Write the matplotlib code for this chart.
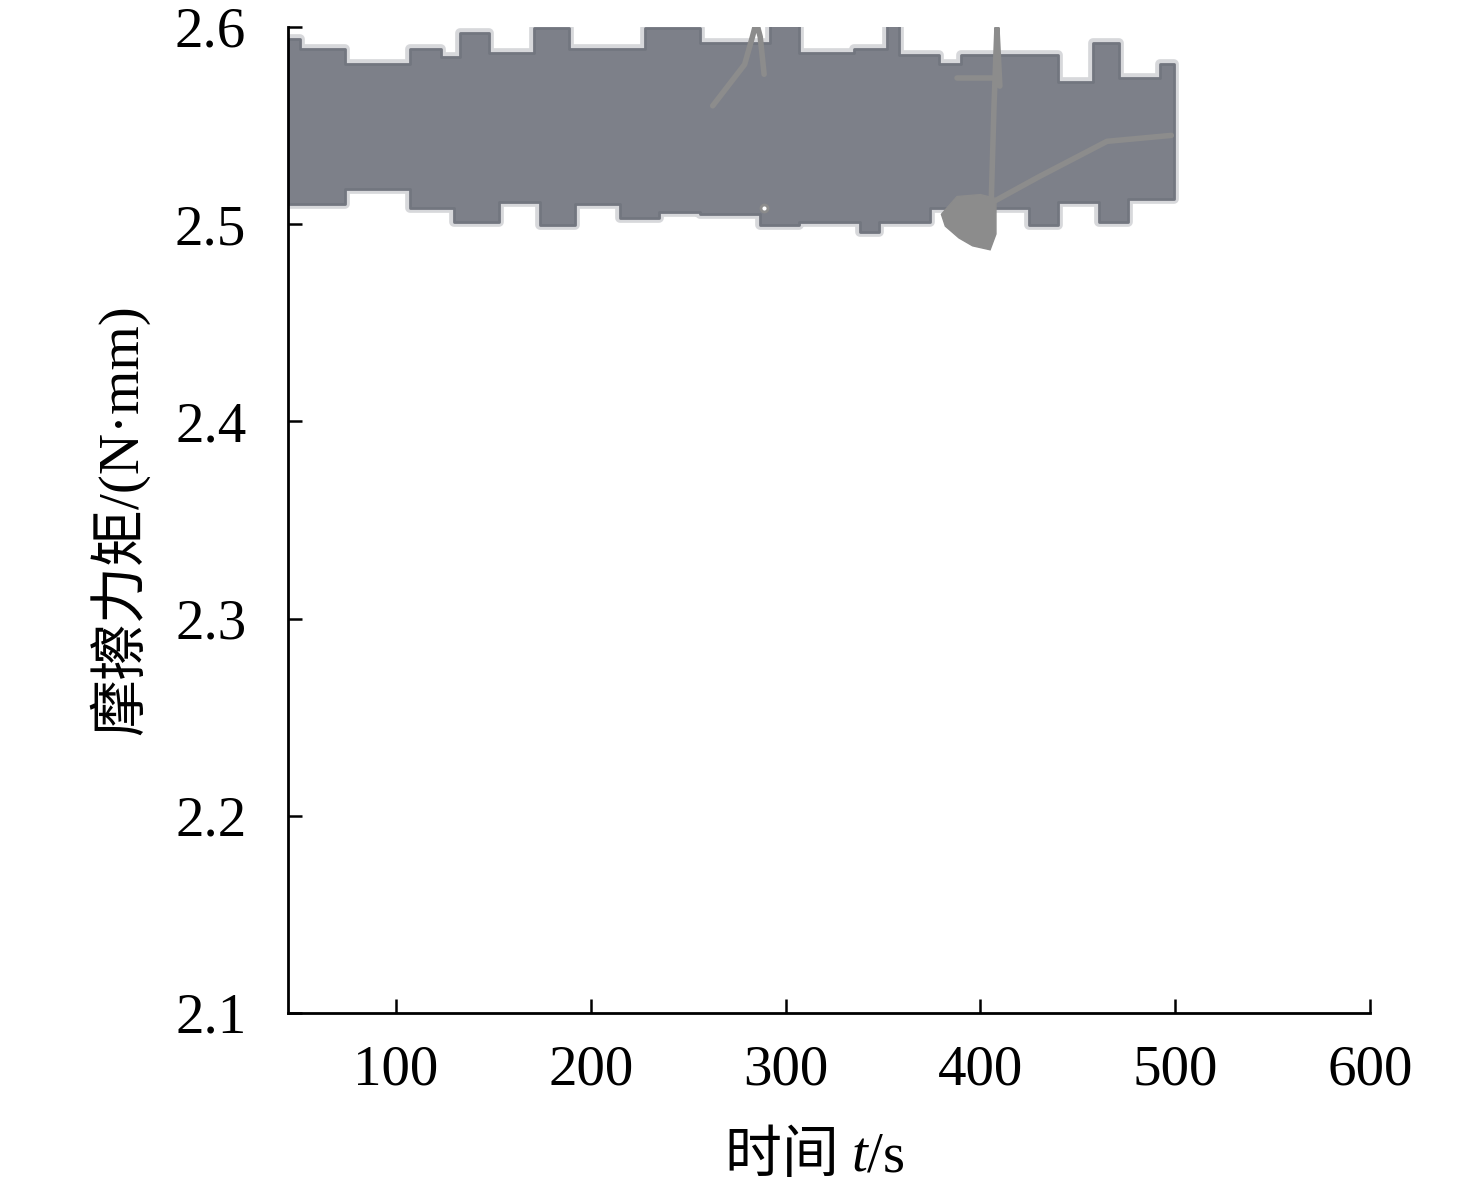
import numpy as np
import matplotlib
matplotlib.use('Agg')
import matplotlib.pyplot as plt
from matplotlib.offsetbox import TextArea, HPacker, AnchoredOffsetbox

plt.rcParams['font.family'] = ['Liberation Serif', 'Noto Sans CJK SC']

# envelope of the dense torque signal (step breakpoints, s / N·mm)
upper_x = [44.6, 51, 74, 107, 123, 133, 148, 171, 189, 228, 256, 292, 307, 335, 352, 358, 379, 390, 440, 458, 471, 492]
upper_y = [2.594, 2.589, 2.581, 2.589, 2.585, 2.597, 2.587, 2.5995, 2.589, 2.5995, 2.592, 2.601, 2.587, 2.589, 2.6025, 2.586, 2.581, 2.586, 2.572, 2.592, 2.574, 2.581]
lower_x = [44.6, 74, 107, 130, 153, 174, 192, 215, 235, 256, 287, 307, 338, 348, 374, 425, 440, 461, 476]
lower_y = [2.510, 2.518, 2.508, 2.501, 2.511, 2.4995, 2.510, 2.503, 2.506, 2.505, 2.4995, 2.501, 2.496, 2.501, 2.508, 2.4995, 2.511, 2.501, 2.513]
t_end = 499.5

# stray strokes on top of the band
stroke1_x = [262.6, 279, 283, 285, 287, 289]
stroke1_y = [2.560, 2.581, 2.595, 2.6025, 2.595, 2.576]
stroke2_x = [405, 407, 408.5, 410]
stroke2_y = [2.492, 2.560, 2.5995, 2.570]
stroke3_x = [406, 430, 465, 498]
stroke3_y = [2.511, 2.524, 2.542, 2.545]
stroke4_x = [388, 408]
stroke4_y = [2.574, 2.574]
blob_x = [380, 388, 400, 408, 408, 405, 396, 389, 382]
blob_y = [2.505, 2.514, 2.515, 2.513, 2.495, 2.487, 2.489, 2.493, 2.499]
dot_x = [289]
dot_y = [2.508]

xticks = [100, 200, 300, 400, 500, 600]
yticks = [2.1, 2.2, 2.3, 2.4, 2.5, 2.6]


def step_at(xs, bx, by):
    idx = np.searchsorted(bx, xs, side='right') - 1
    return np.asarray(by)[np.clip(idx, 0, len(by) - 1)]


fig = plt.figure(figsize=(14.76, 11.92), dpi=100)
ax = fig.add_axes([0.1951, 0.1502, 0.7331, 0.8272])

xs = np.array(sorted(set(upper_x) | set(lower_x) | {t_end}))
up = step_at(xs, upper_x, upper_y)
lo = step_at(xs, lower_x, lower_y)
# soft halo to imitate the blurry edge, then the band itself
ax.fill_between(xs, lo, up, step='post', color='#7d8089', edgecolor='#7d8089', lw=7, alpha=0.3, zorder=1)
ax.fill_between(xs, lo, up, step='post', color='#7d8089', edgecolor='#72767f', lw=2, zorder=2)

art = '#8c8c8c'
ax.plot(stroke1_x, stroke1_y, color=art, lw=4, zorder=3, solid_capstyle='round')
ax.plot(stroke2_x, stroke2_y, color=art, lw=4, zorder=3, solid_capstyle='round')
ax.plot(stroke3_x, stroke3_y, color=art, lw=4, zorder=3, solid_capstyle='round')
ax.plot(stroke4_x, stroke4_y, color=art, lw=4, zorder=3, solid_capstyle='round')
ax.fill(blob_x, blob_y, color=art, zorder=3)
ax.plot(dot_x, dot_y, 'o', ms=5, mfc='white', mec=art, mew=2, zorder=3)

ax.set_xlim(44.6, 600)
ax.set_ylim(2.1, 2.6)
ax.set_xticks(xticks)
ax.set_yticks(yticks)
ax.set_xticklabels([str(v) for v in xticks])
ax.set_yticklabels([f'{v:.1f}' for v in yticks])

for s in ['top', 'right']:
    ax.spines[s].set_visible(False)
for s in ['left', 'bottom']:
    ax.spines[s].set_linewidth(2.0)

ax.tick_params(axis='both', direction='in', length=10, width=1.8, labelsize=41)
ax.tick_params(axis='y', pad=30)
ax.tick_params(axis='x', pad=23)

# x label: CJK text, italic t, then /s
parts = [
    TextArea('时间 ', textprops=dict(fontsize=41, family=['Noto Sans CJK SC'], weight='light')),
    TextArea('t', textprops=dict(fontsize=41, family=['Liberation Serif'], style='italic')),
    TextArea('/s', textprops=dict(fontsize=41, family=['Liberation Serif'])),
]
box = HPacker(children=parts, sep=0, pad=0, align='baseline')
lab = AnchoredOffsetbox(loc='upper center', child=box, pad=0, borderpad=0, frameon=False,
                        bbox_to_anchor=(0.487, -0.115), bbox_transform=ax.transAxes)
ax.add_artist(lab)

ax.set_ylabel('摩擦力矩/(N·mm)', fontsize=41)
ax.yaxis.set_label_coords(-0.128, 0.5)

fig.savefig('out.png', dpi=100, facecolor='white')
